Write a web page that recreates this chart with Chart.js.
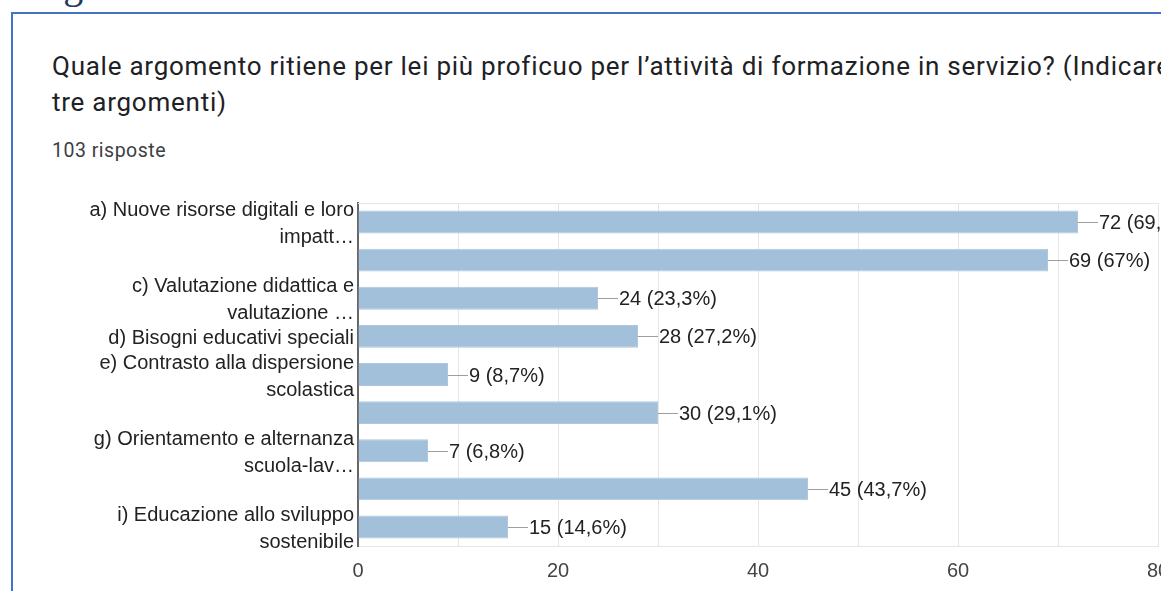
<!DOCTYPE html>
<html>
<head>
<meta charset="utf-8">
<script src="https://cdn.jsdelivr.net/npm/chart.js@4/dist/chart.umd.min.js"></script>
<style>
  html, body { margin:0; padding:0; background:#fff; }
  body { width:1161px; height:591px; overflow:hidden; position:relative; }
  #frame { position:absolute; left:11px; top:12px; width:2000px; height:2000px;
           border-left:2px solid #4472C4; border-top:2px solid #4472C4; }
  #doctext { position:absolute; left:-10px; top:-35px; font-family:"Liberation Serif", serif;
             font-size:40px; line-height:40px; color:#1F3864; white-space:nowrap; }
  #title { position:absolute; left:52px; top:48px; font-family:Roboto, sans-serif; font-size:26px;
           letter-spacing:0.75px; line-height:36px; color:#202124; white-space:nowrap; }
  #sub { position:absolute; left:52px; top:140px; font-family:Roboto, sans-serif; font-size:19.5px;
         letter-spacing:0.5px; line-height:22px; color:#3c4043; white-space:nowrap; }
  #wrap { position:absolute; left:0; top:0; width:1200px; height:591px; }
</style>
</head>
<body>
<div id="doctext">Bisogni formativi</div>
<div id="frame"></div>
<div id="title">Quale argomento ritiene per lei più proficuo per l’attività di formazione in servizio? (Indicare<br>tre argomenti)</div>
<div id="sub">103 risposte</div>
<div id="wrap"><canvas id="c" width="1200" height="591"></canvas></div>
<script>
// ---- data ----
const categories = [
  ['a) Nuove risorse digitali e loro', 'impatt…'],
  '',
  ['c) Valutazione didattica e', 'valutazione …'],
  'd) Bisogni educativi speciali',
  ['e) Contrasto alla dispersione', 'scolastica'],
  '',
  ['g) Orientamento e alternanza', 'scuola-lav…'],
  '',
  ['i) Educazione allo sviluppo', 'sostenibile']
];
const counts = [72, 69, 24, 28, 9, 30, 7, 45, 15];
const totalResponses = 103;
const xTicks = [0, 20, 40, 60, 80];

function pctLabel(v) {
  let p = (Math.round(v / totalResponses * 1000) / 10).toFixed(1);
  if (p.endsWith('.0')) p = p.slice(0, -2);
  return v + ' (' + p.replace('.', ',') + '%)';
}

const labelFont = '20px "Liberation Sans", Arial, sans-serif';

const barLabels = {
  id: 'barLabels',
  beforeDatasetsDraw(chart) {
    const {ctx, chartArea} = chart;
    ctx.save();
    ctx.strokeStyle = '#e6e6e6';
    ctx.lineWidth = 1;
    ctx.beginPath();
    ctx.moveTo(chartArea.left, Math.round(chartArea.top) + 0.5);
    ctx.lineTo(chartArea.right, Math.round(chartArea.top) + 0.5);
    ctx.stroke();
    ctx.restore();
  },
  afterDatasetsDraw(chart) {
    const {ctx} = chart;
    const meta = chart.getDatasetMeta(0);
    ctx.save();
    ctx.font = labelFont;
    ctx.textAlign = 'left';
    ctx.textBaseline = 'middle';
    meta.data.forEach((el, i) => {
      const x = el.x, y = Math.round(el.y);
      ctx.strokeStyle = '#9e9e9e';
      ctx.lineWidth = 1;
      ctx.beginPath();
      ctx.moveTo(x, y + 0.5);
      ctx.lineTo(x + 20, y + 0.5);
      ctx.stroke();
      ctx.fillStyle = '#222';
      ctx.fillText(pctLabel(counts[i]), x + 21, y + 1);
    });
    ctx.restore();
  }
};

new Chart(document.getElementById('c'), {
  type: 'bar',
  data: {
    labels: categories,
    datasets: [{
      data: counts,
      backgroundColor: 'rgb(162,192,218)',
      borderColor: 'rgb(172,199,223)',
      borderWidth: 1,
      barPercentage: 0.6,
      categoryPercentage: 1
    }]
  },
  options: {
    indexAxis: 'y',
    responsive: false,
    animation: false,
    layout: { padding: { top: 203, left: 0, right: 42, bottom: 0 } },
    plugins: { legend: { display: false }, tooltip: { enabled: false } },
    scales: {
      x: {
        min: 0, max: 80,
        afterFit(s) { s.height = 45; },
        ticks: {
          stepSize: 10,
          callback: v => xTicks.includes(v) ? String(v) : '',
          font: { family: '"Liberation Sans", Arial, sans-serif', size: 20 },
          color: '#444',
          padding: 13,
          maxRotation: 0
        },
        grid: {
          drawTicks: false,
          color: ctx => (ctx.tick && ctx.tick.value === 0) ? 'rgba(0,0,0,0)' : '#e6e6e6',
          lineWidth: 1
        },
        border: { color: '#e6e6e6', width: 1 }
      },
      y: {
        afterFit(s) { s.width = 358; },
        ticks: {
          font: { family: '"Liberation Sans", Arial, sans-serif', size: 20, lineHeight: 1.35 },
          color: '#222',
          padding: 4,
          labelOffset: 2,
          crossAlign: 'near',
          autoSkip: false
        },
        grid: { display: false, drawTicks: false },
        border: { color: '#666', width: 2 }
      }
    }
  },
  plugins: [barLabels]
});
</script>
</body>
</html>
